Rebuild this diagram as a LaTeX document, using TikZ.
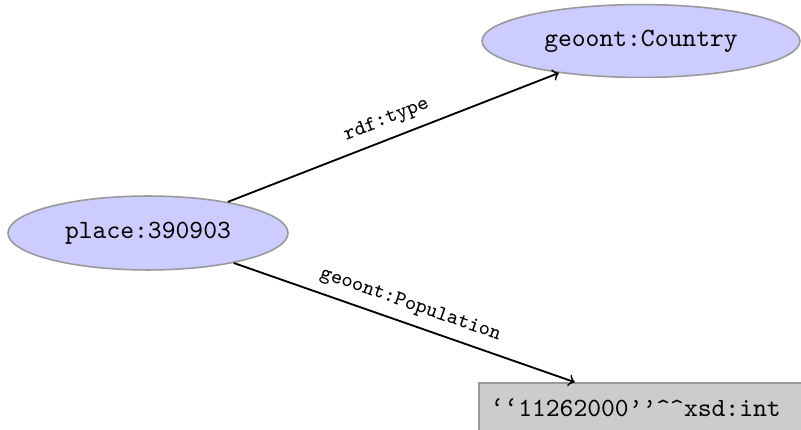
\documentclass[tikz,border=0pt]{standalone}
\usetikzlibrary{shapes.geometric}
\begin{document}
\begin{tikzpicture}[x=0.38pt,y=-0.38pt,
  res/.style={ellipse,draw=gray!80,fill=blue!20,line width=0.6pt,font=\ttfamily,inner sep=0pt},
  lit/.style={rectangle,draw=gray!80,fill=gray!40,line width=0.6pt,font=\ttfamily,inner xsep=4.5pt,inner ysep=0pt,minimum height=19pt,text width=120pt,align=left},
  rel/.style={->,line width=0.7pt},
  lbl/.style={font=\ttfamily\footnotesize,sloped,above}]
\useasboundingbox (0,0) rectangle (801,430);
\clip (0,0) rectangle (801,430);
\node[res,minimum width=106.4pt,minimum height=28.1pt] (place) at (148,233) {place:390903};
\node[res,minimum width=120.8pt,minimum height=27.7pt] (country) at (641,41) {geoont:Country};
\node[lit,anchor=west] (pop) at (478,408) {\textquoteleft\textquoteleft 11262000\textquoteright\textquoteright\textasciicircum\textasciicircum xsd:int};
\draw[rel] (place) -- node[lbl] {rdf:type} (country);
\draw[rel] (place) -- node[lbl] {geoont:Population} (pop);
\end{tikzpicture}
\end{document}
